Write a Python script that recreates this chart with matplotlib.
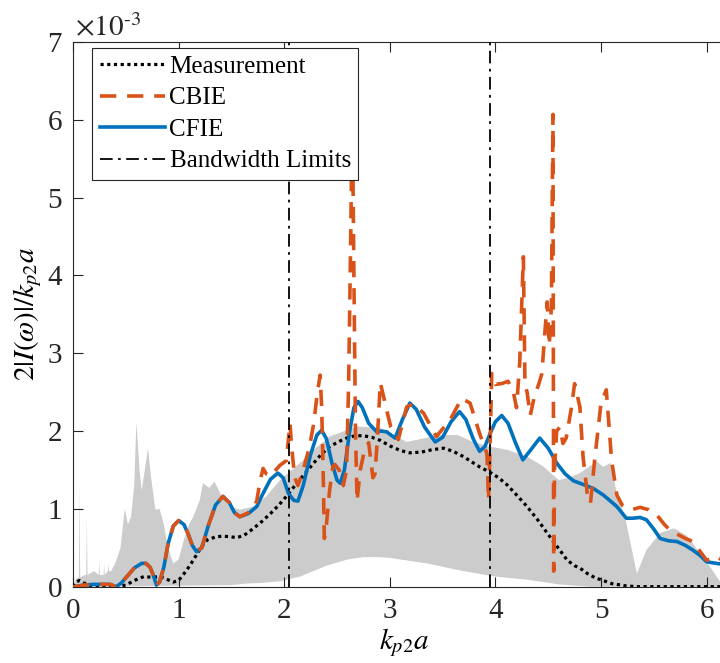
import numpy as np
import matplotlib
matplotlib.use("Agg")
import matplotlib.pyplot as plt

plt.rcParams["font.family"] = ["Liberation Serif", "DejaVu Serif"]
plt.rcParams["mathtext.fontset"] = "stix"

# ---- data (amplitudes in units of 1e-3) ----
# Measurement
meas_x = [0.0, 0.03, 0.06, 0.1, 0.15, 0.2, 0.4, 0.5, 0.58, 0.67, 0.75, 0.82, 0.88, 0.95,
          1.0, 1.07, 1.12, 1.17, 1.22, 1.27, 1.35, 1.42, 1.5, 1.55, 1.62, 1.71, 1.79, 1.87,
          1.95, 2.02, 2.12, 2.2, 2.28, 2.35, 2.43, 2.51, 2.59, 2.67, 2.75, 2.83, 2.91, 3.0,
          3.1, 3.19, 3.3, 3.4, 3.51, 3.6, 3.7, 3.78, 3.85, 3.95, 4.03, 4.11, 4.2, 4.3, 4.4,
          4.49, 4.55, 4.61, 4.68, 4.75, 4.8, 4.87, 4.95, 5.0, 5.1, 5.24, 5.35, 6.3]
meas_y = [0.0, 0.06, 0.08, 0.05, 0.02, 0.0, 0.0, 0.02, 0.08, 0.13, 0.12, 0.13, 0.1, 0.06,
          0.08, 0.2, 0.3, 0.41, 0.52, 0.6, 0.64, 0.65, 0.64, 0.63, 0.66, 0.75, 0.84, 0.94,
          1.05, 1.16, 1.33, 1.46, 1.59, 1.7, 1.8, 1.86, 1.91, 1.94, 1.94, 1.92, 1.88, 1.81,
          1.75, 1.72, 1.73, 1.76, 1.78, 1.74, 1.67, 1.6, 1.54, 1.47, 1.4, 1.31, 1.18, 1.03, 0.86,
          0.69, 0.58, 0.47, 0.34, 0.27, 0.24, 0.17, 0.11, 0.09, 0.04, 0.01, 0.0, 0.0]

# CFIE
cfie_x = [0.0, 0.02, 0.1, 0.19, 0.3, 0.35, 0.41, 0.46, 0.51, 0.58, 0.65, 0.69, 0.73, 0.76,
          0.79, 0.82, 0.86, 0.9, 0.95, 1.0, 1.05, 1.09, 1.13, 1.17, 1.22, 1.28, 1.35, 1.42,
          1.48, 1.53, 1.58, 1.66, 1.74, 1.8, 1.87, 1.94, 1.99, 2.04, 2.09, 2.13, 2.18, 2.25,
          2.31, 2.355, 2.4, 2.45, 2.5, 2.53, 2.57, 2.62, 2.66, 2.7, 2.74, 2.8, 2.876, 2.92,
          2.97, 3.05, 3.12, 3.19, 3.25, 3.33, 3.43, 3.5, 3.58, 3.66, 3.72, 3.79, 3.85, 3.9,
          3.95, 4.0, 4.06, 4.12, 4.19, 4.26, 4.33, 4.42, 4.5, 4.58, 4.66, 4.74, 4.8, 4.86,
          4.93, 5.02, 5.09, 5.15, 5.24, 5.3, 5.37, 5.43, 5.5, 5.56, 5.64, 5.72, 5.8, 5.87,
          5.94, 6.0, 6.09, 6.2]
cfie_y = [0.0, 0.0, 0.02, 0.03, 0.03, 0.03, 0.0, 0.05, 0.13, 0.24, 0.3, 0.3, 0.25, 0.15,
          0.02, 0.06, 0.25, 0.55, 0.78, 0.85, 0.8, 0.68, 0.53, 0.45, 0.5, 0.78, 1.05, 1.16,
          1.08, 0.95, 0.9, 0.94, 1.03, 1.2, 1.38, 1.46, 1.4, 1.2, 1.11, 1.1, 1.3, 1.7,
          1.95, 2.01, 1.9, 1.6, 1.37, 1.33, 1.5, 2.0, 2.3, 2.38, 2.3, 2.1, 1.99, 2.0,
          1.99, 1.91, 2.15, 2.36, 2.28, 2.05, 1.86, 1.92, 2.12, 2.25, 2.15, 1.9, 1.74, 1.8,
          1.97, 2.12, 2.2, 2.1, 1.85, 1.63, 1.75, 1.91, 1.78, 1.59, 1.45, 1.36, 1.33, 1.3,
          1.26, 1.18, 1.1, 1.03, 0.88, 0.88, 0.89, 0.86, 0.74, 0.62, 0.59, 0.58, 0.53, 0.47,
          0.4, 0.32, 0.3, 0.28]

# CBIE
cbie_x = [0.0, 0.02, 0.1, 0.19, 0.3, 0.35, 0.41, 0.46, 0.51, 0.58, 0.65, 0.69, 0.73, 0.76,
          0.79, 0.82, 0.86, 0.9, 0.95, 1.0, 1.05, 1.09, 1.13, 1.17, 1.22, 1.28, 1.35, 1.42,
          1.48, 1.53, 1.58, 1.66, 1.7, 1.74, 1.77, 1.8, 1.83, 1.87, 1.92, 1.96, 2.02, 2.04,
          2.055, 2.07, 2.1, 2.13, 2.18, 2.24, 2.28, 2.31, 2.34, 2.355, 2.37, 2.38, 2.4, 2.43,
          2.46, 2.48, 2.52, 2.56, 2.59, 2.61, 2.63, 2.645, 2.66, 2.675, 2.69, 2.72, 2.76, 2.8,
          2.84, 2.86, 2.88, 2.91, 2.94, 2.97, 3.01, 3.08, 3.16, 3.22, 3.32, 3.44, 3.57, 3.68,
          3.76, 3.85, 3.92, 3.935, 3.95, 3.965, 4.0, 4.06, 4.12, 4.17, 4.2, 4.23, 4.265, 4.28,
          4.3, 4.33, 4.37, 4.41, 4.44, 4.47, 4.49, 4.51, 4.53, 4.545, 4.552, 4.56, 4.58, 4.61,
          4.64, 4.67, 4.72, 4.75, 4.8, 4.83, 4.87, 4.9, 4.94, 5.0, 5.05, 5.1, 5.15, 5.2,
          5.29, 5.37, 5.45, 5.53, 5.6, 5.65, 5.7, 5.8, 5.87, 5.94, 6.0, 6.05, 6.09, 6.2]
cbie_y = [0.0, 0.0, 0.02, 0.03, 0.03, 0.03, 0.0, 0.05, 0.13, 0.24, 0.3, 0.3, 0.25, 0.15,
          0.02, 0.06, 0.25, 0.55, 0.78, 0.85, 0.8, 0.68, 0.53, 0.45, 0.5, 0.78, 1.05, 1.16,
          1.08, 0.95, 0.9, 0.95, 1.0, 1.1, 1.35, 1.52, 1.45, 1.42, 1.5, 1.56, 1.62, 1.9,
          2.1, 1.8, 1.4, 1.3, 1.5, 1.8, 2.1, 2.45, 2.72, 2.3, 1.4, 0.62, 0.8, 1.24,
          1.54, 1.57, 1.5, 1.3, 1.5, 2.6, 4.5, 6.2, 4.0, 2.0, 1.1, 1.5, 1.75, 1.85,
          1.4, 1.45, 1.85, 2.62, 2.45, 2.27, 2.05, 1.89, 2.31, 2.35, 2.23, 1.93, 2.14, 2.42,
          2.36, 1.97, 1.71, 1.11, 1.8, 2.74, 2.6, 2.61, 2.64, 2.5, 2.3, 2.87, 4.24, 2.6,
          2.5, 2.2, 2.45, 2.6, 2.74, 3.3, 3.66, 3.1, 3.6, 6.07, 0.2, 1.5, 2.0, 2.05,
          1.84, 1.91, 2.3, 2.61, 2.31, 1.67, 1.2, 1.07, 1.63, 2.36, 2.53, 1.63, 1.18, 1.05,
          0.99, 1.02, 0.99, 0.92, 0.8, 0.73, 0.69, 0.62, 0.58, 0.45, 0.34, 0.36, 0.39, 0.3]

# Shaded envelope: upper and lower bounds
env_up_x = [0.0, 0.03, 0.055, 0.062, 0.068, 0.11, 0.125, 0.131, 0.137, 0.2, 0.245, 0.25,
            0.255, 0.29, 0.295, 0.3, 0.33, 0.335, 0.34, 0.36, 0.4, 0.45, 0.49, 0.52, 0.55,
            0.58, 0.6, 0.63, 0.65, 0.68, 0.71, 0.74, 0.78, 0.82, 0.86, 0.9, 0.95, 1.0, 1.05,
            1.1, 1.14, 1.2, 1.23, 1.29, 1.34, 1.41, 1.48, 1.58, 1.71, 1.83, 1.96, 2.15, 2.28,
            2.43, 2.69, 2.91, 3.0, 3.16, 3.3, 3.48, 3.64, 3.79, 3.95, 4.11, 4.3, 4.45, 4.6,
            4.7, 4.8, 4.96, 5.02, 5.09, 5.15, 5.23, 5.34, 5.43, 5.56, 5.69, 5.81, 5.94, 6.03,
            6.13, 6.2]
env_up_y = [0.0, 0.1, 0.12, 1.3, 0.12, 0.15, 0.15, 0.9, 0.15, 0.2, 0.15, 0.35,
            0.15, 0.15, 0.3, 0.15, 0.2, 0.3, 0.2, 0.2, 0.3, 0.5, 1.0, 0.8, 0.9,
            1.3, 2.12, 1.5, 1.24, 1.5, 1.78, 1.4, 0.99, 1.0, 0.8, 0.5, 0.3, 0.35, 0.6,
            0.8, 0.9, 1.11, 1.33, 1.27, 1.35, 1.16, 1.03, 0.99, 1.03, 1.16, 1.37, 1.59, 1.76,
            1.93, 2.06, 2.04, 1.98, 1.86, 1.9, 1.95, 1.95, 1.86, 1.8, 1.76, 1.67, 1.55, 1.37,
            1.4, 1.46, 1.61, 1.54, 1.59, 1.2, 0.88, 0.17, 0.47, 0.69, 0.75, 0.66, 0.43, 0.26,
            0.06, 0.0]
env_lo_x = [0.0, 1.5, 1.64, 1.8, 1.96, 2.15, 2.4, 2.6, 2.75, 2.9, 3.0, 3.35, 3.66, 4.0,
            4.3, 4.6, 4.9, 6.2]
env_lo_y = [0.0, 0.02, 0.04, 0.05, 0.07, 0.13, 0.27, 0.35, 0.38, 0.38, 0.37, 0.3, 0.21, 0.13,
            0.09, 0.03, 0.0, 0.0]

band_limits = [2.05, 3.95]

# ---- figure ----
W, H = 720, 663
fig = plt.figure(figsize=(W / 100, H / 100), dpi=100)
x_max = 2 * np.pi
px_per_unit = 105.6
ax = fig.add_axes([73 / W, 76.3 / H, x_max * px_per_unit / W, 544.7 / H])

blue = "#0072BD"
orange = "#D95319"

ax.fill(np.concatenate([env_up_x, env_lo_x[::-1]]),
        np.concatenate([env_up_y, env_lo_y[::-1]]),
        color="0.8", lw=0, zorder=1)

ax.plot(meas_x, meas_y, color="black", lw=2.3, linestyle=(0, (1, 1.1)),
        zorder=3, label="Measurement")
ax.plot(cfie_x, cfie_y, color=blue, lw=2.6, zorder=4, label="CFIE")
ax.plot(cbie_x, cbie_y, color=orange, lw=2.6, linestyle=(0, (4.5, 3)),
        zorder=5, label="CBIE")
for i, xb in enumerate(band_limits):
    ax.axvline(xb, color="black", lw=1.3, linestyle=(0, (7, 3, 1.5, 3)), zorder=6,
               label="Bandwidth Limits" if i == 0 else None)

ax.set_xlim(0, x_max)
ax.set_ylim(0, 7)
ax.set_xticks(range(0, 7))
ax.set_yticks(range(0, 8))
ax.tick_params(direction="in", length=7, width=0.8, top=True, right=True,
               labelsize=21, colors="0.15", pad=8)
for sp in ax.spines.values():
    sp.set_color("0.15")
    sp.set_linewidth(0.8)

ax.set_xlabel(r"$k_{p2}a$", fontsize=21, labelpad=2)
ax.set_ylabel(r"$2|I(\omega)|/k_{p2}a$", fontsize=21, labelpad=2)
fig.text(75 / W, 1 - 36 / H, r"$\times10^{\text{-}3}$", fontsize=21, va="baseline",
         color="0.15")

handles, labels = ax.get_legend_handles_labels()
order = [labels.index(n) for n in ["Measurement", "CBIE", "CFIE", "Bandwidth Limits"]]
leg = ax.legend([handles[i] for i in order], [labels[i] for i in order],
                loc="upper left", bbox_to_anchor=(19 / (x_max * px_per_unit), 1 - 6 / 544.7),
                fontsize=18, frameon=True, fancybox=False, framealpha=1,
                edgecolor="0.15", borderpad=0.3, labelspacing=0.36,
                handlelength=2.6, handletextpad=0.2, borderaxespad=0)
leg.get_frame().set_linewidth(0.8)
leg.set_zorder(10)

fig.savefig("out.png", dpi=100)
